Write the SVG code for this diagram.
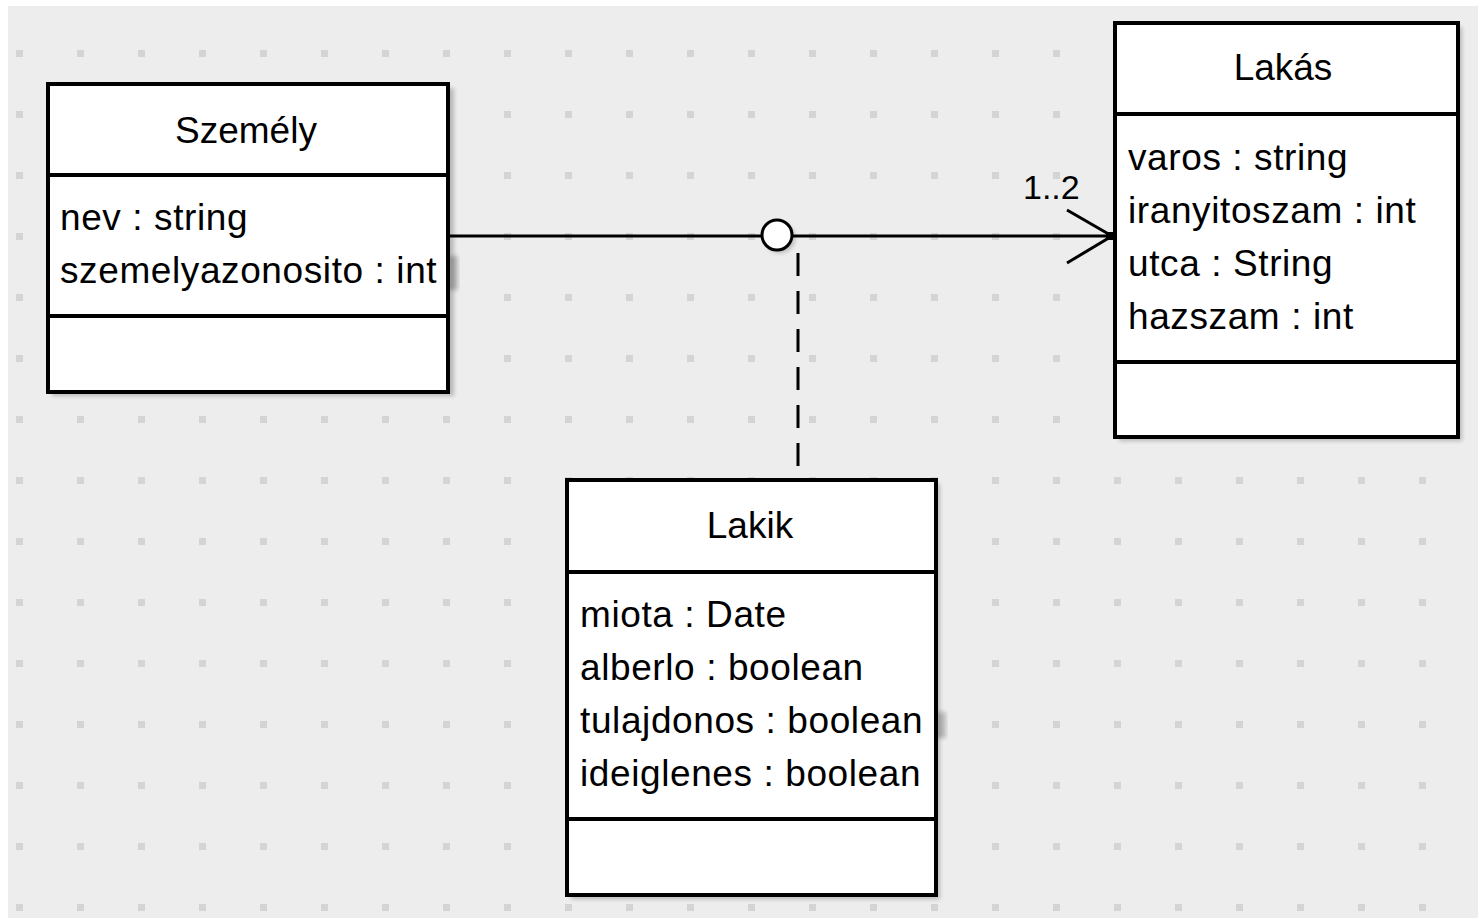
<svg xmlns="http://www.w3.org/2000/svg" width="1478" height="918" viewBox="0 0 1478 918">
  <defs>
    <pattern id="grid" patternUnits="userSpaceOnUse" x="16" y="50" width="61" height="61">
      <rect x="0" y="0" width="7" height="7" fill="#d4d4d4"/>
    </pattern>
    <filter id="soft" x="-20%" y="-20%" width="140%" height="140%">
      <feGaussianBlur stdDeviation="2"/>
    </filter>
    <style>
      .box { fill: #ffffff; stroke: #000000; stroke-width: 4; }
      .sep { stroke: #000000; stroke-width: 4; }
      .shadow { fill: #000000; opacity: 0.22; filter: url(#soft); }
      .title { font-family: "Liberation Sans", Arial, sans-serif; font-size: 37px; fill: #000000; text-anchor: middle; }
      .attr { font-family: "Liberation Sans", Arial, sans-serif; font-size: 37px; letter-spacing: 0.6px; fill: #000000; }
      .mult { font-family: "Liberation Sans", Arial, sans-serif; font-size: 34px; fill: #000000; }
      .edge { fill: none; stroke: #000000; stroke-width: 3; }
    </style>
  </defs>

  <!-- canvas and dotted grid -->
  <rect x="0" y="0" width="1478" height="918" fill="#ffffff"/>
  <rect x="8" y="6" width="1470" height="912" fill="#ededed"/>
  <rect x="8" y="6" width="1470" height="912" fill="url(#grid)"/>

  <!-- association line, association-class link and navigable end -->
  <g id="connectors">
    <line class="edge" x1="450" y1="236" x2="1113" y2="236"/>
    <line class="edge" x1="798" y1="253" x2="798" y2="478" stroke-dasharray="23 15"/>
    <polyline class="edge" points="1067,210 1112,236 1067,263"/>
    <rect x="1106" y="232" width="9" height="8" fill="#000000"/>
    <text class="mult" x="1023" y="199">1..2</text>
    <circle cx="780" cy="238" r="15" class="shadow"/>
    <circle cx="777" cy="235" r="15" fill="#ffffff" stroke="#000000" stroke-width="3"/>
  </g>

  <!-- class Személy -->
  <g id="szemely">
    <rect class="shadow" x="52" y="88" width="402" height="308"/>
    <rect class="shadow" x="448" y="256" width="10" height="34" opacity="0.18"/>
    <rect class="box" x="48" y="84" width="400" height="308"/>
    <line class="sep" x1="48" y1="175" x2="448" y2="175"/>
    <line class="sep" x1="48" y1="316" x2="448" y2="316"/>
    <text class="title" x="246" y="143">Személy</text>
    <text class="attr" x="60" y="230">nev : string</text>
    <text class="attr" x="60" y="283">szemelyazonosito : int</text>
  </g>

  <!-- class Lakás -->
  <g id="lakas">
    <rect class="shadow" x="1119" y="27" width="343" height="414"/>
    <rect class="box" x="1115" y="23" width="343" height="414"/>
    <line class="sep" x1="1115" y1="114" x2="1458" y2="114"/>
    <line class="sep" x1="1115" y1="362" x2="1458" y2="362"/>
    <text class="title" x="1283" y="80">Lakás</text>
    <text class="attr" x="1128" y="170">varos : string</text>
    <text class="attr" x="1128" y="223">iranyitoszam : int</text>
    <text class="attr" x="1128" y="276">utca : String</text>
    <text class="attr" x="1128" y="329">hazszam : int</text>
  </g>

  <!-- association class Lakik -->
  <g id="lakik">
    <rect class="shadow" x="571" y="484" width="369" height="415"/>
    <rect class="shadow" x="936" y="712" width="10" height="26" opacity="0.18"/>
    <rect class="box" x="567" y="480" width="369" height="415"/>
    <line class="sep" x1="567" y1="572" x2="936" y2="572"/>
    <line class="sep" x1="567" y1="819" x2="936" y2="819"/>
    <text class="title" x="750" y="538">Lakik</text>
    <text class="attr" x="580" y="627">miota : Date</text>
    <text class="attr" x="580" y="680">alberlo : boolean</text>
    <text class="attr" x="580" y="733">tulajdonos : boolean</text>
    <text class="attr" x="580" y="786">ideiglenes : boolean</text>
  </g>
</svg>
